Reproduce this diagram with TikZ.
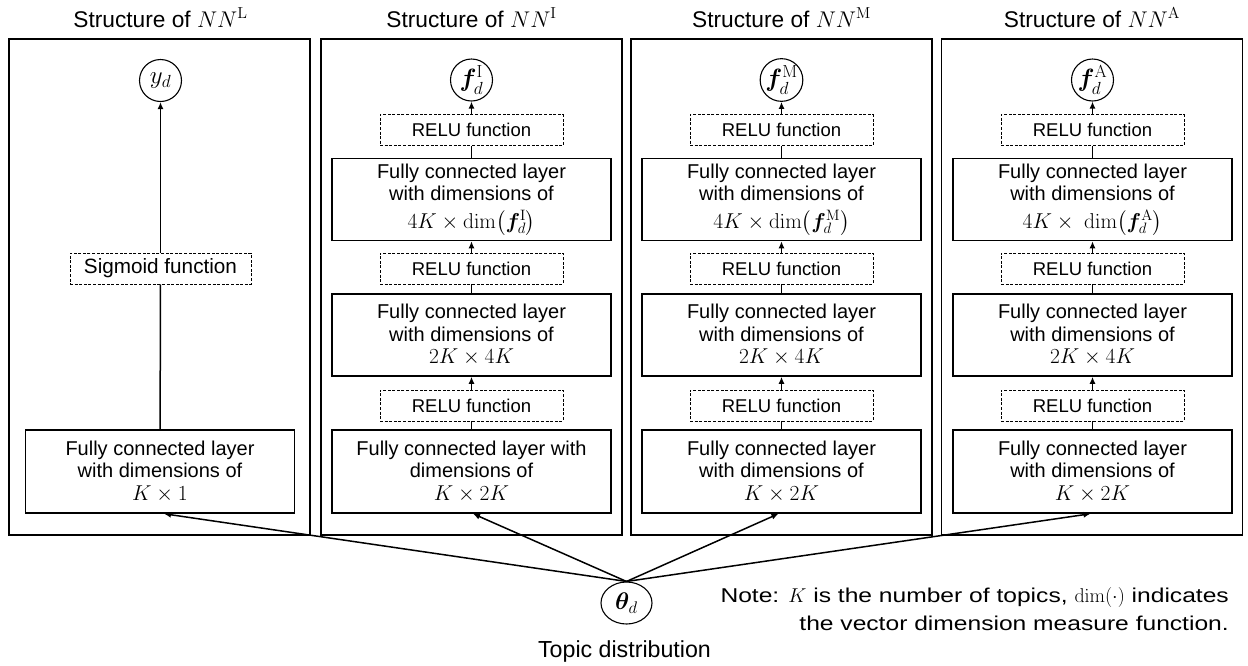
\RequirePackage{fix-cm}
\documentclass[tikz,border=0pt]{standalone}
\usepackage{amsmath}
\usepackage{bm}
\usepackage[no-math]{fontspec}
\setmainfont{Liberation Sans}
\newfontfamily\notefont[FakeStretch=1.23]{Liberation Sans}
\usetikzlibrary{arrows.meta,shapes.geometric}
\newcommand\mth[1]{{\fontsize{21.5}{22}\selectfont$#1$}}
\begin{document}
\begin{tikzpicture}[x=1pt,y=-1pt,
 panel/.style={draw, line width=1.8pt, minimum width=301pt, minimum height=496pt, inner sep=0pt},
 ptitle/.style={font=\fontsize{22.7}{26}\selectfont, anchor=base, inner sep=0pt},
 fcbox/.style={draw, line width=1.5pt, minimum width=279pt, minimum height=82pt, inner sep=0pt, align=center, font=\fontsize{20}{22.5}\selectfont},
 actbox/.style={draw, line width=0.9pt, dash pattern=on 3pt off 1.6pt, minimum width=183pt, minimum height=31pt, inner sep=0pt, font=\fontsize{18.5}{22}\selectfont},
 outnode/.style={circle, draw, line width=1.1pt, minimum size=42pt, inner sep=0pt, font=\fontsize{25}{26}\selectfont},
 link/.style={line width=1.5pt},
 arr/.style={line width=1.5pt, -{Latex[length=7pt,width=6pt]}},
 plain/.style={inner sep=0pt},
]
\fill[white] (0,0) rectangle (1248,665);
\useasboundingbox (0,0) rectangle (1248,665);

% panels
\node[panel] (p1) at (159.5,287) {};
\node[panel] (p2) at (471.5,287) {};
\node[panel] (p3) at (781.5,287) {};
\node[panel] (p4) at (1092,287) {};
\node[ptitle] (t1) at (160.5,27) {Structure of $NN^{\mathrm{L}}$};
\node[ptitle] (t2) at (471.5,27) {Structure of $NN^{\mathrm{I}}$};
\node[ptitle] (t3) at (781.5,27) {Structure of $NN^{\mathrm{M}}$};
\node[ptitle] (t4) at (1092,27) {Structure of $NN^{\mathrm{A}}$};

% panel L
\node[outnode] (yL) at (160.5,80.5) {$y_d$};
\node[actbox, minimum width=181pt, font=\fontsize{20.7}{22}\selectfont] (sig) at (160.5,268.5) {Sigmoid function};
\node[fcbox, minimum width=269pt, minimum height=83pt] (fcL) at (160,471.5) {Fully connected layer\\with dimensions of\\\mth{K\times 1}};
\draw[link] (fcL) -- (sig);
\draw[arr] (sig) -- (yL);

% panel I
\node[outnode] (yI) at (471.5,80) {$\bm{f}_d^{\mathrm{I}}$};
\node[actbox] (rI1) at (471.5,130) {RELU function};
\node[fcbox] (fI1) at (471.5,199.5) {Fully connected layer\\with dimensions of\\[5pt]\mth{4K\times\dim\bigl(\bm{f}_d^{\mathrm{I}}\bigr)}};
\node[actbox] (rI2) at (471.5,268.5) {RELU function};
\node[fcbox] (fI2) at (471.5,335) {Fully connected layer\\with dimensions of\\\mth{2K\times 4K}};
\node[actbox] (rI3) at (471.5,405.5) {RELU function};
\node[fcbox, minimum height=83pt] (fI3) at (471.5,471.5) {Fully connected layer with\\dimensions of\\\mth{K\times 2K}};
\draw[link] (fI3) -- (rI3);
\draw[arr] (rI3) -- (fI2);
\draw[link] (fI2) -- (rI2);
\draw[arr] (rI2) -- (fI1);
\draw[link] (fI1) -- (rI1);
\draw[arr] (rI1) -- (yI);

% panel M
\node[outnode] (yM) at (781.5,80) {$\bm{f}_d^{\mathrm{M}}$};
\node[actbox] (rM1) at (781.5,130) {RELU function};
\node[fcbox] (fM1) at (781.5,199.5) {Fully connected layer\\with dimensions of\\[5pt]\mth{4K\times\dim\bigl(\bm{f}_d^{\mathrm{M}}\bigr)}};
\node[actbox] (rM2) at (781.5,268.5) {RELU function};
\node[fcbox] (fM2) at (781.5,335) {Fully connected layer\\with dimensions of\\\mth{2K\times 4K}};
\node[actbox] (rM3) at (781.5,405.5) {RELU function};
\node[fcbox, minimum height=83pt] (fM3) at (781.5,471.5) {Fully connected layer\\with dimensions of\\\mth{K\times 2K}};
\draw[link] (fM3) -- (rM3);
\draw[arr] (rM3) -- (fM2);
\draw[link] (fM2) -- (rM2);
\draw[arr] (rM2) -- (fM1);
\draw[link] (fM1) -- (rM1);
\draw[arr] (rM1) -- (yM);

% panel A
\node[outnode] (yA) at (1092.5,80) {$\bm{f}_d^{\mathrm{A}}$};
\node[actbox] (rA1) at (1092.5,130) {RELU function};
\node[fcbox] (fA1) at (1092.5,199.5) {Fully connected layer\\with dimensions of\\[5pt]\mth{4K\times\;\dim\bigl(\bm{f}_d^{\mathrm{A}}\bigr)}};
\node[actbox] (rA2) at (1092.5,268.5) {RELU function};
\node[fcbox] (fA2) at (1092.5,335) {Fully connected layer\\with dimensions of\\\mth{2K\times 4K}};
\node[actbox] (rA3) at (1092.5,405.5) {RELU function};
\node[fcbox, minimum height=83pt] (fA3) at (1092.5,471.5) {Fully connected layer\\with dimensions of\\\mth{K\times 2K}};
\draw[link] (fA3) -- (rA3);
\draw[arr] (rA3) -- (fA2);
\draw[link] (fA2) -- (rA2);
\draw[arr] (rA2) -- (fA1);
\draw[link] (fA1) -- (rA1);
\draw[arr] (rA1) -- (yA);

% topic distribution
\node[ellipse, draw, line width=1.1pt, minimum width=51pt, minimum height=42pt, inner sep=0pt, font=\fontsize{24}{25}\selectfont] (theta) at (626.5,603) {$\bm{\theta}_d$};
\node[plain, anchor=base, font=\fontsize{23.2}{25}\selectfont] (topic) at (624.5,657) {Topic distribution};
\draw[arr] (theta.north) -- ([xshift=4pt]fcL.south);
\draw[arr] (theta.north) -- ([xshift=1.5pt]fI3.south);
\draw[arr] (theta.north) -- ([xshift=-3pt]fM3.south);
\draw[arr] (theta.north) -- ([xshift=-2pt]fA3.south);

\node[plain, anchor=base east, align=right, font=\notefont\fontsize{20}{28}\selectfont] (note) at (1229,630) {Note: $K$ is the number of topics, $\dim(\cdot)$ indicates\\the vector dimension measure function.};
\end{tikzpicture}
\end{document}
